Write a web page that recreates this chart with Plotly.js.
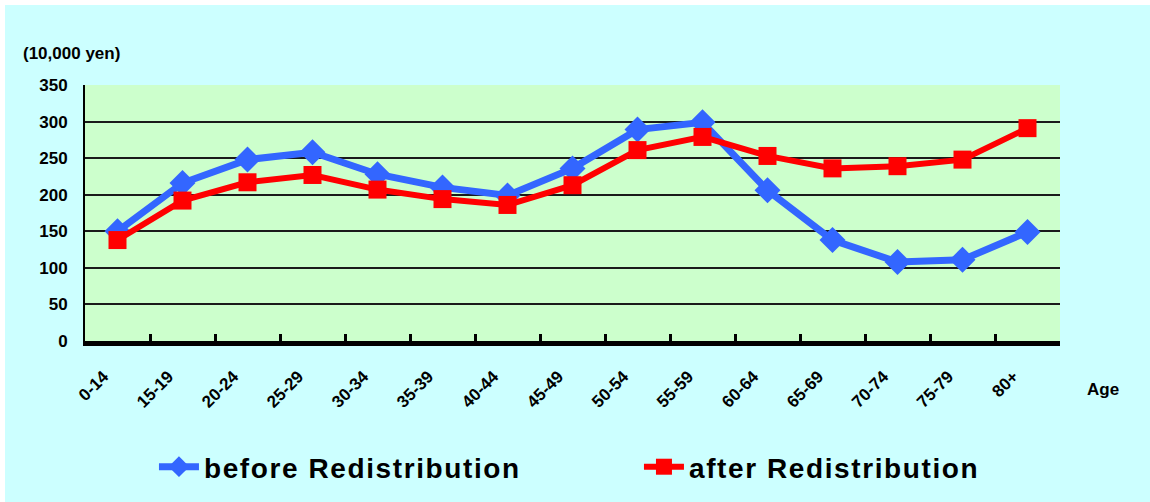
<!DOCTYPE html>
<html>
<head>
<meta charset="utf-8">
<script src="https://cdn.plot.ly/plotly-3.0.1.min.js"></script>
<style>
  html, body { margin: 0; padding: 0; background: #ffffff; }
  #chart { position: absolute; left: 5px; top: 5px; width: 1145px; height: 497px; }
  #chart .legendtext { letter-spacing: 1.6px; }
</style>
</head>
<body>
<div id="chart"></div>
<script>
const ageGroups = ["0-14","15-19","20-24","25-29","30-34","35-39","40-44","45-49","50-54","55-59","60-64","65-69","70-74","75-79","80+"];
const beforeRedistribution = [150, 216, 248, 258, 228, 210, 199, 236, 289, 299, 206, 138, 108, 111, 149];
const afterRedistribution  = [138, 192, 217, 227, 207, 194, 186, 213, 261, 279, 253, 236, 239, 248, 291];
const yTicks = [0, 50, 100, 150, 200, 250, 300, 350];

const fontFam = 'Liberation Sans, Arial, sans-serif';

const traces = [
  {
    x: ageGroups, y: beforeRedistribution, type: 'scatter', mode: 'lines+markers',
    name: 'before Redistribution',
    line: { color: '#3366FF', width: 7 },
    marker: { symbol: 'diamond', size: 20, color: '#3366FF' }
  },
  {
    x: ageGroups, y: afterRedistribution, type: 'scatter', mode: 'lines+markers',
    name: 'after Redistribution',
    line: { color: '#FF0000', width: 6 },
    marker: { symbol: 'square', size: 18, color: '#FF0000' }
  }
];

const layout = {
  width: 1145, height: 497,
  paper_bgcolor: '#CCFFFF',
  plot_bgcolor: '#CCFFCC',
  margin: { l: 80, r: 90, t: 80, b: 161, autoexpand: false },
  font: { family: fontFam, color: '#000000' },
  showlegend: true,
  legend: {
    orientation: 'h', xref: 'container', yref: 'container',
    x: 0.1301, xanchor: 'left', y: 0.0704, yanchor: 'middle',
    bgcolor: 'rgba(0,0,0,0)',
    font: { family: fontFam, size: 28, color: '#000000', weight: 'bold' },
    entrywidth: 430, entrywidthmode: 'pixels',
    itemsizing: 'trace', itemwidth: 40
  },
  xaxis: {
    type: 'category', range: [-0.5, 14.5], fixedrange: true,
    showgrid: false, zeroline: false,
    showline: true, linecolor: '#000000', linewidth: 5,
    ticks: 'inside', tickson: 'boundaries', ticklen: 7, tickwidth: 3, tickcolor: '#000000',
    tickangle: -45,
    tickfont: { family: fontFam, size: 17, color: '#000000', weight: 'bold' },
    ticklabelstandoff: 14, ticklabelshift: -14
  },
  yaxis: {
    range: [0, 350], tickvals: yTicks, ticktext: yTicks.map(String), fixedrange: true,
    showgrid: true, gridcolor: '#1a1a1a', gridwidth: 2,
    zeroline: false,
    showline: true, linecolor: '#000000', linewidth: 2,
    ticks: '',
    tickfont: { family: fontFam, size: 17, color: '#000000', weight: 'bold' },
    ticklabelstandoff: 12
  },
  annotations: [
    { text: '(10,000 yen)', xref: 'paper', yref: 'paper', x: -0.066, y: 1.125,
      xanchor: 'left', yanchor: 'middle', showarrow: false,
      font: { family: fontFam, size: 17, color: '#000000', weight: 'bold' } },
    { text: 'Age', xref: 'paper', yref: 'paper', x: 1.0256, y: -0.19,
      xanchor: 'left', yanchor: 'middle', showarrow: false,
      font: { family: fontFam, size: 17, color: '#000000', weight: 'bold' } }
  ]
};

Plotly.newPlot('chart', traces, layout, { staticPlot: true, displayModeBar: false });
</script>
</body>
</html>
